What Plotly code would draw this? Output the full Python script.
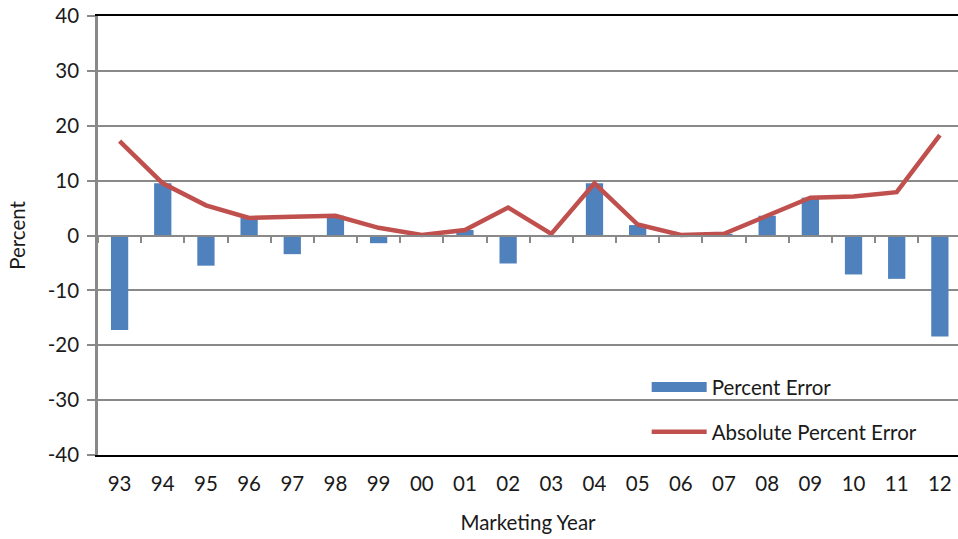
import plotly.graph_objects as go

years = ["93", "94", "95", "96", "97", "98", "99", "00", "01", "02",
         "03", "04", "05", "06", "07", "08", "09", "10", "11", "12"]
percent_error = [-17.2, 9.5, -5.5, 3.2, -3.4, 3.6, -1.4, 0.1, 1.0, -5.1,
                 -0.3, 9.5, 1.9, 0.1, 0.3, 3.6, 6.9, -7.1, -7.9, -18.4]
abs_percent_error = [17.2, 9.5, 5.5, 3.2, 3.4, 3.6, 1.4, 0.1, 1.0, 5.1,
                     0.3, 9.5, 2.0, 0.1, 0.3, 3.6, 6.9, 7.1, 7.9, 18.3]
y_tick_values = [-40, -30, -20, -10, 0, 10, 20, 30, 40]
y_tick_labels = ["-40", "-30", "-20", "-10", "0", "10", "20", "30", "40"]

FONT = "Lato"
FS = 20.5
GRID = "#898989"
BLUE = "#4F81BD"
RED = "#C0504D"

fig = go.Figure()
fig.add_trace(go.Bar(
    x=years, y=percent_error, name="Percent Error",
    marker=dict(color=BLUE, line=dict(width=0)),
    showlegend=False,
))
# legend entry for bars drawn as a wide rectangle, like the original
fig.add_trace(go.Scatter(
    x=[None], y=[None], name="Percent Error", mode="lines",
    line=dict(color=BLUE, width=12), legendgroup="a",
))
fig.add_trace(go.Scatter(
    x=years, y=abs_percent_error, name="Absolute Percent Error",
    mode="lines", line=dict(color=RED, width=4.5),
    xaxis="x2", legendgroup="b",
))

xrange = [-0.5, 19.42]
fig.update_layout(
    width=958, height=539,
    margin=dict(l=98, r=0, t=16, b=84),
    plot_bgcolor="white", paper_bgcolor="white",
    font=dict(family=FONT, size=FS, color="#1a1a1a"),
    bargap=0.6,
    showlegend=True,
    legend=dict(
        x=0.638, y=0.2, xanchor="left", yanchor="top",
        bgcolor="rgba(0,0,0,0)", font=dict(size=FS, family=FONT),
        tracegroupgap=15, itemwidth=55,
    ),
    xaxis=dict(
        type="category", range=xrange, automargin=False,
        showline=True, linecolor="black", linewidth=2, mirror=True,
        ticks="", showgrid=False, zeroline=False,
        tickfont=dict(size=FS), ticklabelstandoff=9,
        title=dict(text="Marketing Year", font=dict(size=FS), standoff=22),
    ),
    xaxis2=dict(
        type="category", range=xrange, overlaying="x",
        anchor="free", position=0.5, automargin=False,
        showline=True, linecolor=GRID, linewidth=2,
        ticks="outside", tickson="boundaries", ticklen=6, tickwidth=2,
        tickcolor=GRID, showticklabels=False, showgrid=False, zeroline=False,
    ),
    yaxis=dict(
        range=[-40, 40], tickvals=y_tick_values, ticktext=y_tick_labels,
        automargin=False,
        showline=True, linecolor=GRID, linewidth=2.5,
        ticks="outside", ticklen=8, tickwidth=1.5, tickcolor=GRID,
        showgrid=True, gridcolor=GRID, gridwidth=1.5, zeroline=False,
        tickfont=dict(size=FS), ticklabelstandoff=4,
        title=dict(text="Percent", font=dict(size=FS), standoff=17),
    ),
)

fig.write_html(
    "out.html",
    config={"displayModeBar": False},
    post_script="document.body.style.margin='0';document.body.style.overflow='hidden';",
)
